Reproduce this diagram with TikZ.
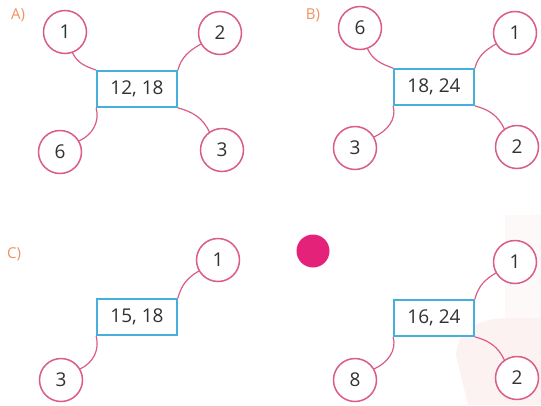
\documentclass[tikz,border=0pt]{standalone}
\usepackage{fontspec}
\setmainfont{Open Sans}
\definecolor{ringc}{RGB}{218,92,135}
\definecolor{boxc}{RGB}{70,175,220}
\definecolor{labc}{RGB}{240,145,95}
\definecolor{dotc}{RGB}{228,34,122}
\definecolor{txtc}{RGB}{50,50,50}
\definecolor{bgpink}{RGB}{253,242,242}
\definecolor{bgpink2}{RGB}{254,249,249}
\tikzset{
  ring/.style={circle,draw=ringc,line width=1.5pt,minimum size=43pt,inner sep=0pt,fill=white,text=txtc,font=\fontsize{19}{19}\selectfont},
  numbox/.style={rectangle,draw=boxc,line width=1.7pt,minimum width=80pt,minimum height=36pt,inner sep=0pt,fill=white,text=txtc,font=\fontsize{19}{19}\selectfont},
  lab/.style={text=labc,font=\fontsize{15}{15}\selectfont},
  conn/.style={draw=ringc,line width=1.2pt}
}
\begin{document}
\begin{tikzpicture}[x=1pt,y=-1pt]
\useasboundingbox (0,0) rectangle (541,405);
% faint background
\fill[bgpink2] (505,215) rectangle (541,405);
\fill[bgpink] (468,405) -- (456,355) .. controls (458,328) and (480,318) .. (510,318) -- (541,318) -- (541,405) -- cycle;
% A
\node[lab] (la) at (18,15) {A)};
\node[numbox] (ba) at (137,89) {12, 18};
\node[ring] (a1) at (65,32) {1};
\node[ring] (a2) at (220,33) {2};
\node[ring] (a6) at (60,152) {6};
\node[ring] (a3) at (222,150) {3};
\draw[conn] (a1.-70) to[out=-65,in=160] (ba.north west);
\draw[conn] (ba.north east) to[out=75,in=-150] (a2.-150);
\draw[conn] (ba.south west) to[out=-75,in=25] (a6.30);
\draw[conn] (ba.south east) to[out=-15,in=115] (a3.125);
% B
\node[lab] (lb) at (313,15) {B)};
\node[numbox] (bb) at (434,87) {18, 24};
\node[ring] (b6) at (360,28) {6};
\node[ring] (b1) at (515,33) {1};
\node[ring] (b3) at (355,148) {3};
\node[ring] (b2) at (517,147) {2};
\draw[conn] (b6.-70) to[out=-65,in=160] (bb.north west);
\draw[conn] (bb.north east) to[out=75,in=-150] (b1.-150);
\draw[conn] (bb.south west) to[out=-75,in=25] (b3.30);
\draw[conn] (bb.south east) to[out=-15,in=115] (b2.125);
% C
\node[lab] (lc) at (14,254) {C)};
\node[numbox] (bc) at (137,317) {15, 18};
\node[ring] (c1) at (218,260) {1};
\node[ring] (c3) at (61,380) {3};
\draw[conn] (bc.north east) to[out=75,in=-150] (c1.-150);
\draw[conn] (bc.south west) to[out=-75,in=25] (c3.30);
% D
\node[circle,fill=dotc,minimum size=33pt,inner sep=0pt] (dot) at (313,251) {};
\node[numbox] (bd) at (434,318) {16, 24};
\node[ring] (d1) at (515,262) {1};
\node[ring] (d8) at (355,380) {8};
\node[ring] (d2) at (517,378) {2};
\draw[conn] (bd.north east) to[out=75,in=-150] (d1.-150);
\draw[conn] (bd.south west) to[out=-75,in=25] (d8.30);
\draw[conn] (bd.south east) to[out=-15,in=115] (d2.125);
\end{tikzpicture}
\end{document}
